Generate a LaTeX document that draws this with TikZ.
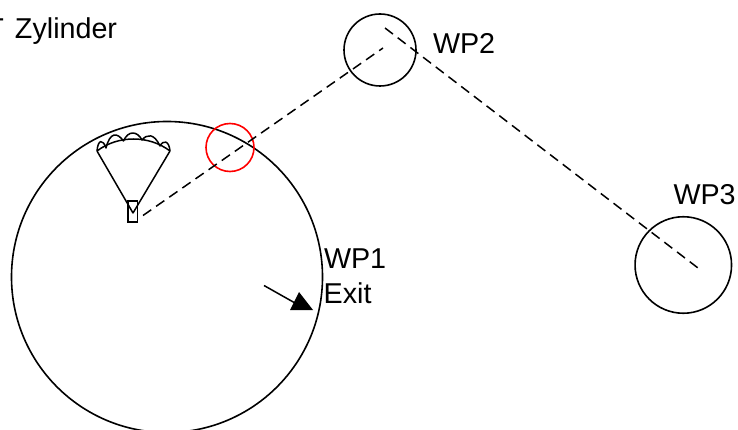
\documentclass[tikz,border=0pt]{standalone}
\usepackage{fontspec}
\setmainfont{Liberation Sans}
\tikzset{
  ring/.style={circle,draw=black,line width=1.6pt,minimum size=#1,inner sep=0pt,outer sep=0pt},
  redring/.style={circle,draw=red,line width=1.6pt,minimum size=#1,inner sep=0pt,outer sep=0pt},
  route/.style={line width=1.5pt,dash pattern=on 10pt off 6pt},
  chute/.style={line width=1.5pt,line join=round},
  label/.style={anchor=base west,inner sep=0pt,outer sep=0pt,font=\fontsize{28.7}{30}\selectfont},
}
\begin{document}
\begin{tikzpicture}[x=1pt,y=-1pt]
\useasboundingbox (0,0) rectangle (738,430);
\clip (0,0) rectangle (738,430);
% cylinders
\node[ring=311pt] (wpa) at (167,277) {};
\node[ring=72pt] (wpb) at (380,50) {};
\node[ring=96.5pt] (wpc) at (683.3,265) {};
\node[redring=48pt] (tag) at (230,147.5) {};
% route
\coordinate (r1) at (143,215.5);
\coordinate (r2) at (383,48);
\coordinate (r3) at (385,28);
\coordinate (r4) at (698,268);
\draw[route] (r1) -- (r2);
\draw[route] (r3) -- (r4);
% parachute
\coordinate (cl) at (97,151);
\coordinate (cr) at (170,151);
\coordinate (cb) at (133,213);
\draw[chute] (cl) -- (cb) -- (cr);
\draw[chute] (cl) .. controls (118,135) and (149,135) .. (cr);
\draw[chute] (cl) .. controls (98,139) and (103,139) .. (106,148)
  .. controls (110,132) and (117,132) .. (123.5,141)
  .. controls (128,130.5) and (137,130.5) .. (142,140)
  .. controls (147,134) and (154,133) .. (160,146)
  .. controls (163,140) and (169,140) .. (cr);
\node[draw=black,line width=1.5pt,minimum width=9.5pt,minimum height=21pt,inner sep=0pt,outer sep=0pt] (pod) at (132.5,211.5) {};
% exit arrow
\coordinate (as) at (264,285.5);
\coordinate (aa) at (299,292);
\coordinate (ab) at (290,310);
\coordinate (ac) at (313,310);
\draw[line width=1.5pt] (as) -- (295,303);
\fill[black] (aa) -- (ab) -- (ac) -- cycle;
% labels
\node[label] (zyl) at (-13.5,39) {T\hspace{3pt} Zylinder};
\node[label] (lb) at (433,54) {WP2};
\node[label] (lc) at (673.5,205) {WP3};
\node[label] (la) at (324,268) {WP1};
\node[label] (lx) at (323.7,303) {Exit};
\end{tikzpicture}
\end{document}
